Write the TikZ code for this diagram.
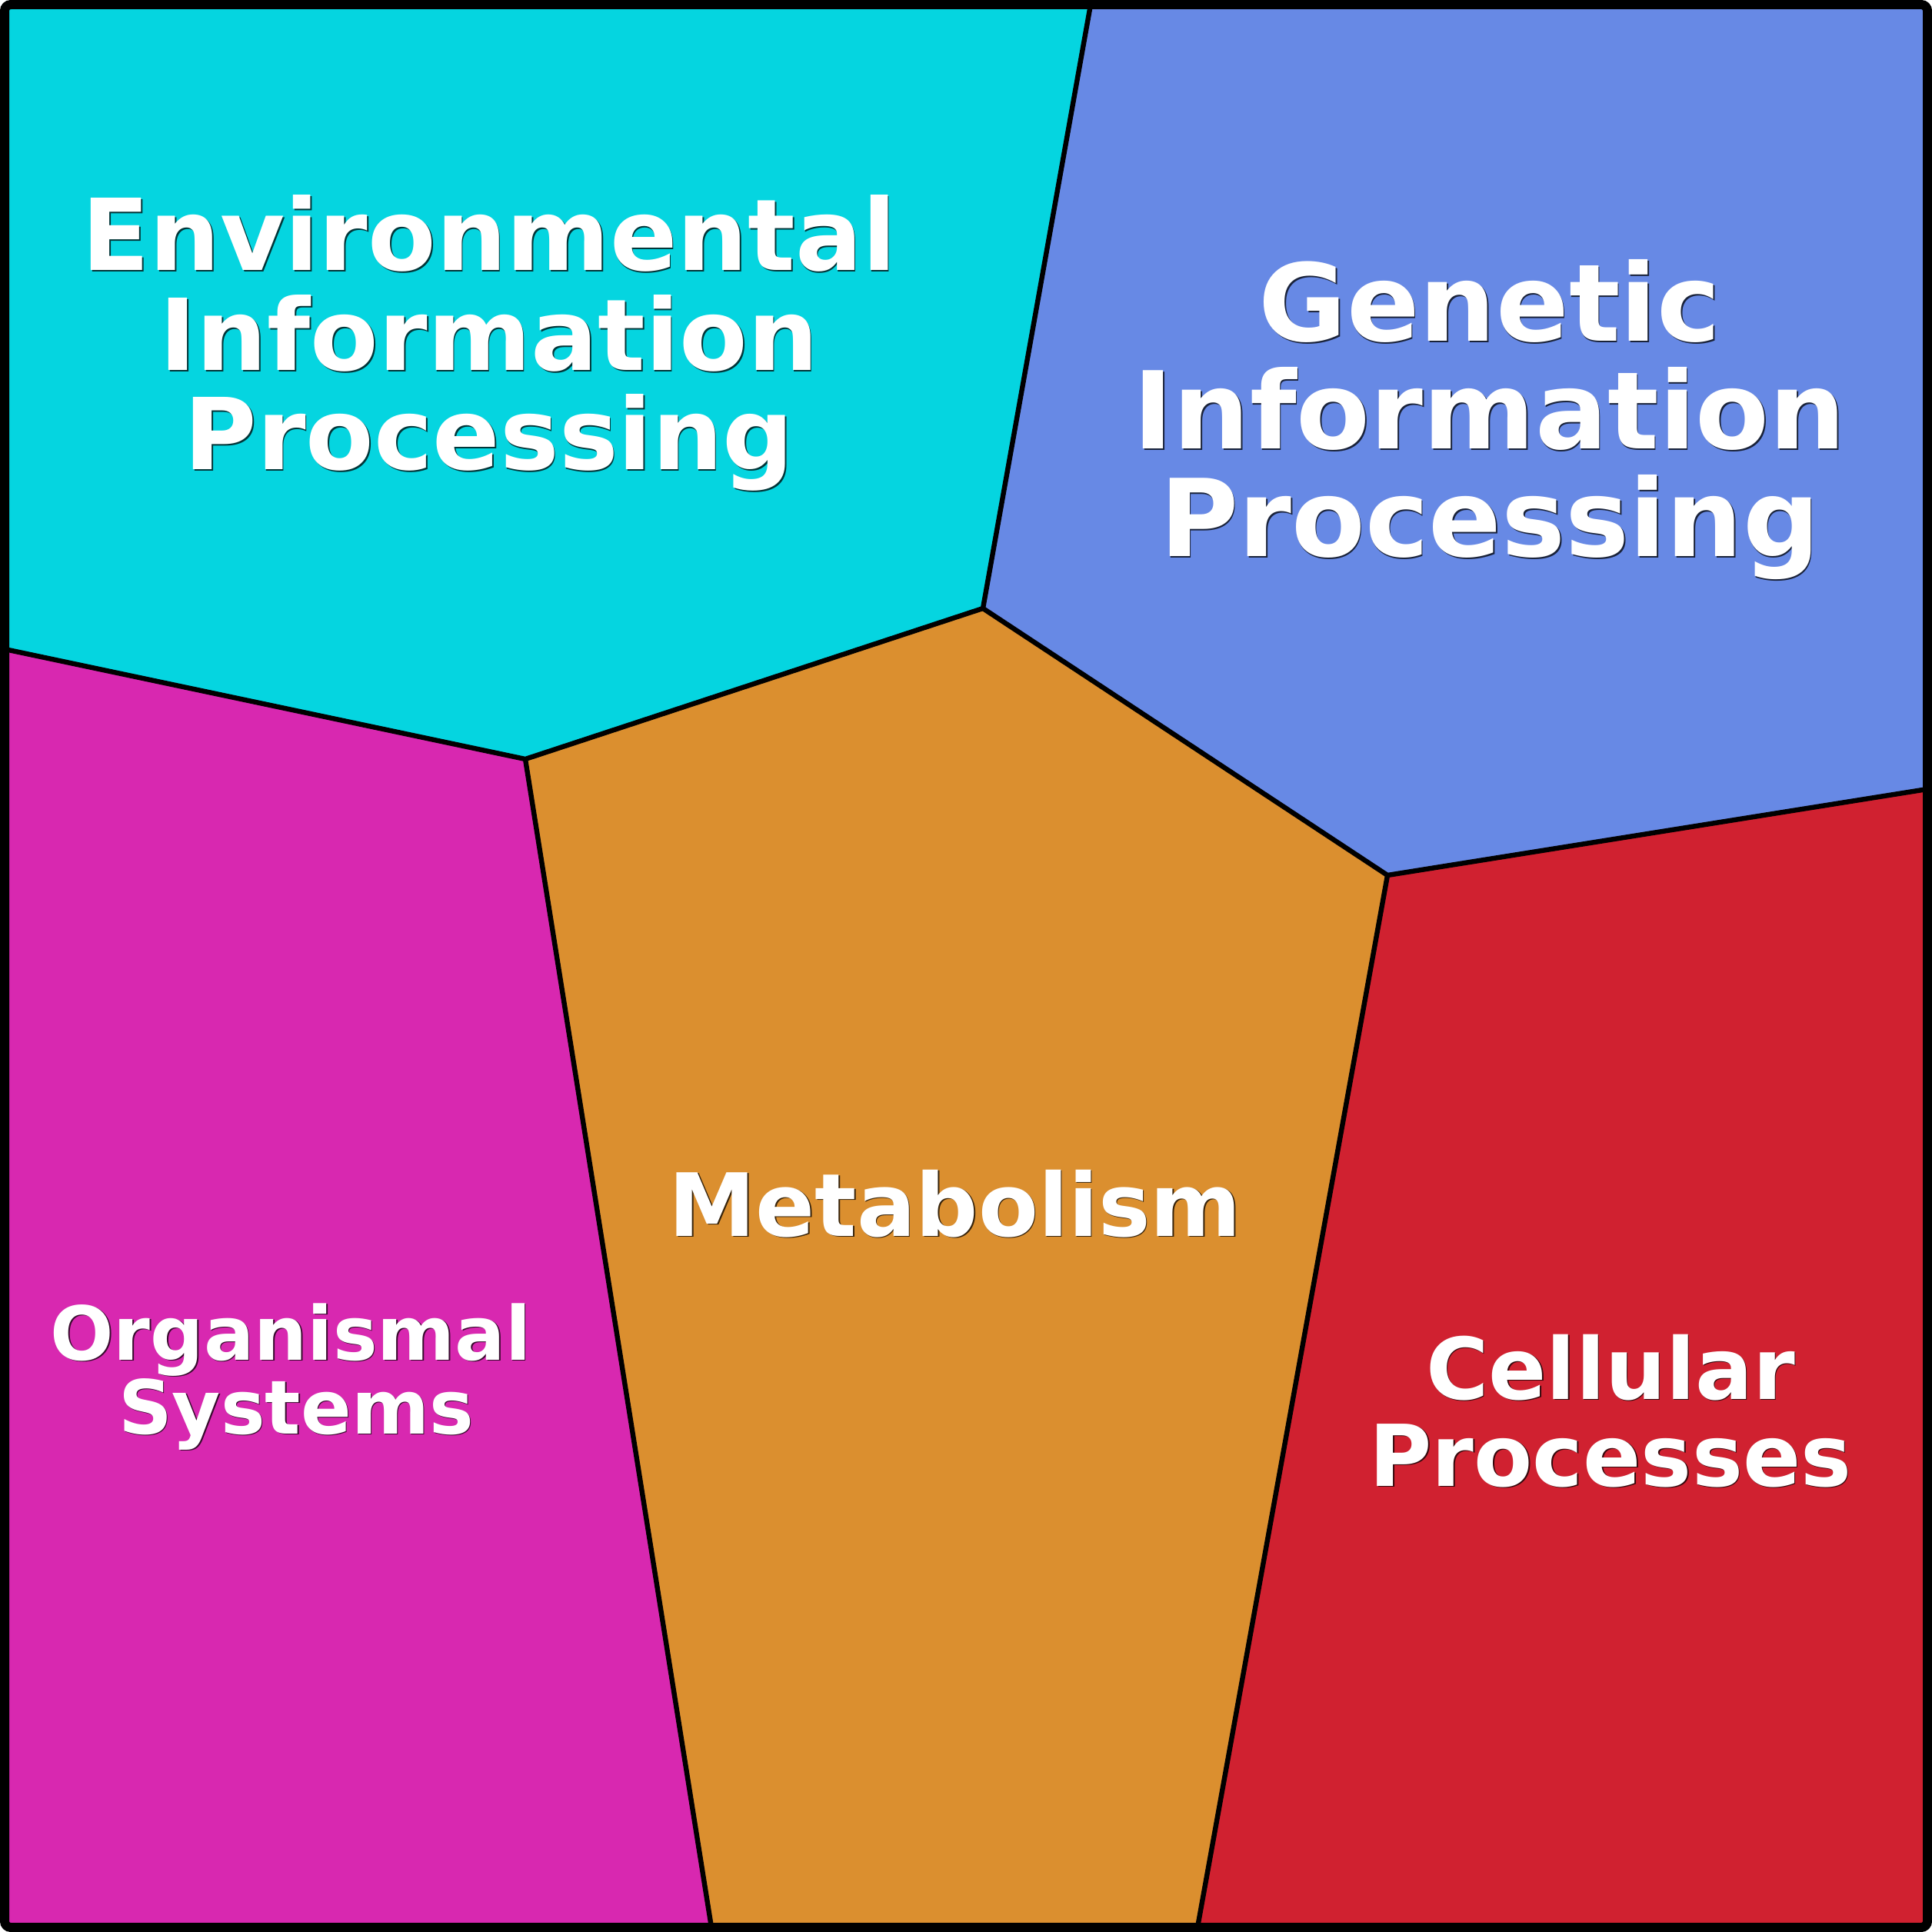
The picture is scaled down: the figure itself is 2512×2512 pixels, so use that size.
\documentclass[tikz,border=0pt]{standalone}
\usepackage{fontspec}
\setmainfont{DejaVu Sans}
\definecolor{cEnv}{RGB}{5,213,224}
\definecolor{cGen}{RGB}{103,137,229}
\definecolor{cOrg}{RGB}{216,40,176}
\definecolor{cMet}{RGB}{219,143,47}
\definecolor{cCel}{RGB}{208,33,48}
\tikzset{
  lbl/.style={inner sep=0pt, anchor=base, text=white},
  lblsh/.style={inner sep=0pt, anchor=base, text=black, opacity=0.75},
  edge/.style={draw=black, line width=1.6pt, line join=miter},
  frame/.style={draw=black, line width=3pt, rounded corners=2pt}
}
\newcommand\lab[5]{%
  \node[lblsh, font=\fontsize{#4}{#4}\selectfont\bfseries] (#1s) at (#2+1.6,#3+1.6) {#5};
  \node[lbl, font=\fontsize{#4}{#4}\selectfont\bfseries] (#1) at (#2,#3) {#5};
}
\begin{document}
\begin{tikzpicture}[x=0.25pt,y=-0.25pt]
\useasboundingbox (0,0) rectangle (2512,2512);
\coordinate (TL) at (6,6);
\coordinate (TR) at (2506,6);
\coordinate (BL) at (6,2506);
\coordinate (BR) at (2506,2506);
\coordinate (A) at (1418,6);
\coordinate (B) at (1278,791);
\coordinate (C) at (683,987);
\coordinate (D) at (6,844);
\coordinate (E) at (1804,1138);
\coordinate (F) at (2506,1026);
\coordinate (G) at (925,2506);
\coordinate (H) at (1557,2506);
% regions
\fill[cEnv] (TL) -- (A) -- (B) -- (C) -- (D) -- cycle;
\fill[cGen] (A) -- (TR) -- (F) -- (E) -- (B) -- cycle;
\fill[cOrg] (D) -- (C) -- (G) -- (BL) -- cycle;
\fill[cMet] (C) -- (B) -- (E) -- (H) -- (G) -- cycle;
\fill[cCel] (E) -- (F) -- (BR) -- (H) -- cycle;
% edges
\draw[edge] (A) -- (B) -- (C) -- (D);
\draw[edge] (B) -- (E) -- (F);
\draw[edge] (C) -- (G);
\draw[edge] (E) -- (H);
% frame
\draw[frame] (TL) rectangle (BR);
% labels
\lab{env1}{636}{352}{32.25}{Environmental}
\lab{env2}{636}{482}{32.25}{Information}
\lab{env3}{636}{611}{32.25}{Processing}
\lab{gen1}{1937}{444}{34.9}{Genetic}
\lab{gen2}{1937}{584}{34.9}{Information}
\lab{gen3}{1937}{724}{34.9}{Processing}
\lab{met}{1242}{1607}{28.4}{Metabolism}
\lab{org1}{378}{1768}{24.25}{Organismal}
\lab{org2}{385}{1864}{24.25}{Systems}
\lab{cel1}{2094}{1819}{27.75}{Cellular}
\lab{cel2}{2094}{1932}{27.75}{Processes}
\end{tikzpicture}
\end{document}
